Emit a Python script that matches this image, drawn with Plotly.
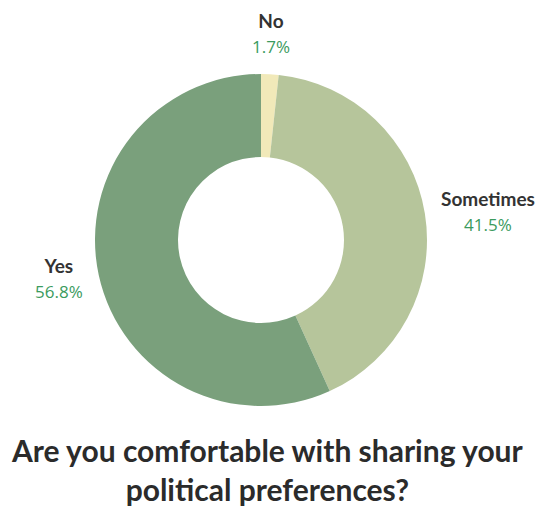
import math
import plotly.graph_objects as go

labels = ["No", "Sometimes", "Yes"]
values = [1.7, 41.5, 56.8]
colors = ["#F1E9B9", "#B6C59B", "#7AA07C"]
title_lines = ["Are you comfortable with sharing your", "political preferences?"]

W, H = 541, 509
dom_x = [95 / W, 427 / W]
dom_y = [103 / H, 435 / H]

fig = go.Figure(go.Pie(
    labels=labels,
    values=values,
    hole=0.5,
    sort=False,
    direction="clockwise",
    rotation=0,
    marker=dict(colors=colors, line=dict(width=0)),
    textinfo="none",
    hoverinfo="label+percent",
    domain=dict(x=dom_x, y=dom_y),
    showlegend=False,
))

# label placement derived from slice mid-angles
cx = (dom_x[0] + dom_x[1]) / 2 * W
cy = (1 - (dom_y[0] + dom_y[1]) / 2) * H
R = min((dom_x[1] - dom_x[0]) * W, (dom_y[1] - dom_y[0]) * H) / 2
r = R + 14
total = sum(values)
cum = 0.0
for lab, val in zip(labels, values):
    mid = (cum + val / 2) / total * 2 * math.pi
    cum += val
    s, c = math.sin(mid), math.cos(mid)
    px = cx + r * s
    py = cy - r * c
    xanchor = "left" if s > 0.3 else ("right" if s < -0.3 else "center")
    yanchor = "bottom" if c > 0.7 else ("top" if c < -0.7 else "middle")
    fig.add_annotation(
        text=f"<b>{lab}</b><br><span style='color:#3B9B5E;font-family:Open Sans;font-weight:normal;font-size:17px'>{val:.1f}%</span>",
        x=px / W, y=1 - py / H, xref="paper", yref="paper",
        xanchor=xanchor, yanchor=yanchor, align="center",
        showarrow=False,
        font=dict(family="Lato", size=19, color="#333333"),
    )

fig.add_annotation(
    text="<b>" + "<br>".join(title_lines) + "</b>",
    x=0.495, y=0.0, xref="paper", yref="paper",
    xanchor="center", yanchor="bottom",
    showarrow=False,
    font=dict(family="Lato", size=30, color="#2B2B2B"),
)

fig.update_layout(
    width=W, height=H,
    margin=dict(l=0, r=0, t=0, b=0),
    paper_bgcolor="white",
    plot_bgcolor="white",
)

fig.write_html("out.html")
